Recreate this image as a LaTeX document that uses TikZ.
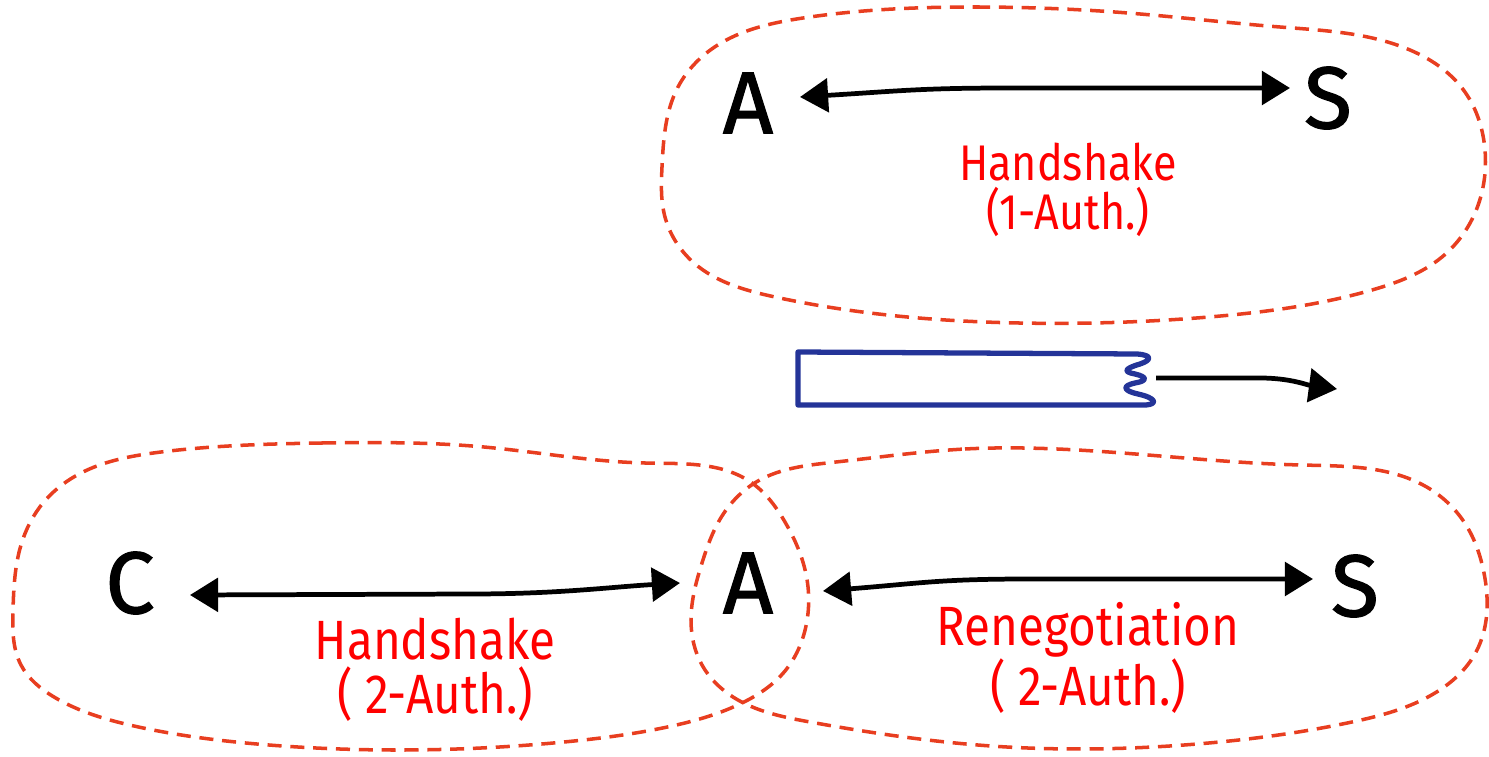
\documentclass[tikz,border=0pt]{standalone}
\usepackage{fontspec}
\setmainfont{Fira Sans}
\newfontfamily\handfont[FakeStretch=0.86]{Fira Sans}
\newfontfamily\partyfont[FakeBold=1.3]{Fira Sans}
\usetikzlibrary{
  hobby,
  calc,
  arrows.meta,
}
\definecolor{sessred}{RGB}{232,62,32}
\definecolor{recblue}{RGB}{36,52,152}
\tikzset{
  session/.style={sessred, line width=2pt, dash pattern=on 8pt off 5pt,
    use Hobby shortcut, closed=true},
  party/.style={inner sep=0pt, font=\partyfont\fontsize{50}{50}\selectfont},
  phase/.style={red, align=center, font=\handfont\fontsize{28.5}{28}\selectfont},
  bigphase/.style={phase, font=\handfont\fontsize{31.5}{31}\selectfont},
  link/.style={line width=2.7pt, {Triangle[length=16pt,width=19pt]}-{Triangle[length=16pt,width=19pt]}},
}

\begin{document}
\begin{tikzpicture}[x=0.02cm, y=-0.02cm]
\useasboundingbox (0,0) rectangle (1489,757);

% sessions
\draw[session] (976,7) .. (1128,13) .. (1280,27) .. (1410,50) .. (1462,88) .. (1485,150)
  .. (1475,213) .. (1442,257) .. (1372,290) .. (1209,317) .. (1019,323) .. (775,297)
  .. (694,263) .. (664,213) .. (662,167) .. (678,87) .. (721,43) .. (803,18);
\draw[session] (322,443) .. (484,447) .. (645,463) .. (752,483) .. (785,522) .. (806,574)
  .. (806,626) .. (785,671) .. (742,703) .. (672,726) .. (564,742) .. (403,750)
  .. (269,745) .. (134,726) .. (54,697) .. (21,665) .. (13,610) .. (21,545)
  .. (43,503) .. (81,473) .. (161,452);
\draw[session] (965,449) .. (1094,451) .. (1301,465) .. (1430,489) .. (1466,525) .. (1484,573)
  .. (1476,652) .. (1435,693) .. (1352,722) .. (1197,744) .. (991,746) .. (810,722)
  .. (733,697) .. (702,665) .. (691,620) .. (702,563) .. (722,516) .. (758,481) .. (836,462);

% upper run
\node[party] (A1) at (748,103) {A};
\node[party] (S1) at (1328,98) {S};
\draw[link] ($(A1)+(52,-6)$) .. controls +(100,-6) and +(-90,0) .. ($(S1)+(-318,-10)$)
  -- ($(S1)+(-38,-10)$);
\node[phase] (hs1) at (1068,190) {Handshake\\(1-Auth.)};

% record in between, torn at the right
\draw[recblue, line width=3pt, line join=round, line cap=round]
  (798,405) -- (798,352) -- (1137,354)
  .. controls (1152,355) and (1152,360) .. (1140,364)
  .. controls (1123,369) and (1124,372) .. (1135,374)
  .. controls (1148,377) and (1147,381) .. (1135,383)
  .. controls (1121,386) and (1124,391) .. (1138,394)
  .. controls (1156,398) and (1158,404) .. (1146,405)
  -- cycle;
\coordinate (tail) at (1156,378);
\coordinate (head) at (1337,389);
\draw[line width=2.7pt, -{Triangle[length=16pt,width=19pt]}]
  (tail) -- ++(104,0) .. controls +(30,0) and +(-30,-4) .. (head);

% lower run
\node[party] (C) at (130,583) {C};
\node[party] (A2) at (748,583) {A};
\node[party] (S2) at (1355,586) {S};
\draw[link] ($(C)+(60,12)$) -- ++(280,-1) .. controls +(90,0) and +(-70,4) .. ($(A2)+(-68,0)$);
\draw[link] ($(A2)+(75,8)$) .. controls +(100,-8) and +(-90,0) .. ($(S2)+(-325,-7)$)
  -- ($(S2)+(-42,-7)$);
\node[bigphase] (hs2) at (435,670) {Handshake\\( 2-Auth.)};
\node[bigphase] (reneg) at (1088,658) {Renegotiation\\( 2-Auth.)};
\end{tikzpicture}
\end{document}
